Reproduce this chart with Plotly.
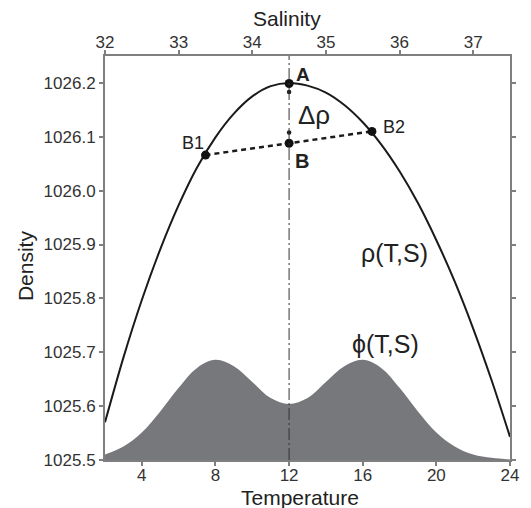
import plotly.graph_objects as go

# ---- data ----
temperature = [2, 3, 4, 5, 6, 7, 8, 9, 10, 11, 12, 13, 14, 15, 16, 17, 18, 19, 20, 21, 22, 23, 24]
density_rho = [1025.570, 1025.690, 1025.797, 1025.891, 1025.973, 1026.043, 1026.099, 1026.143,
               1026.175, 1026.194, 1026.200, 1026.195, 1026.182, 1026.159, 1026.127, 1026.086,
               1026.036, 1025.977, 1025.908, 1025.831, 1025.744, 1025.648, 1025.543]
phi_fill = [1025.510, 1025.525, 1025.551, 1025.590, 1025.634, 1025.671, 1025.686, 1025.674,
            1025.645, 1025.615, 1025.604, 1025.615, 1025.645, 1025.674, 1025.686, 1025.671,
            1025.634, 1025.590, 1025.551, 1025.525, 1025.510, 1025.504, 1025.501]
baseline = 1025.5

point_names = ["B1", "B", "B2"]
mix_T = [7.46, 12.0, 16.5]
mix_rho = [1026.066, 1026.088, 1026.110]
point_A = (12.0, 1026.199)
delta_marks_T = [12.0, 12.0]
delta_marks_rho = [1026.183, 1026.108]

salinity_ticks = [32, 33, 34, 35, 36, 37]
salinity_range = [32, 37.5]
mix_salinity = 34.5
temp_ticks = [4, 8, 12, 16, 20, 24]
temp_range = [2, 24]
density_ticks = [1025.5, 1025.6, 1025.7, 1025.8, 1025.9, 1026.0, 1026.1, 1026.2]
density_range = [1025.5, 1026.25]

FONT = "Liberation Sans, Arial, Helvetica, sans-serif"
TXT = "#222222"
AX = "#7f7f7f"

fig = go.Figure()

# phi(T,S) filled distribution
fig.add_trace(go.Scatter(x=temperature, y=[baseline] * len(temperature), mode="lines",
                         line=dict(width=0, color="#77787b"), showlegend=False, hoverinfo="skip"))
fig.add_trace(go.Scatter(x=temperature, y=phi_fill, mode="lines", fill="tonexty",
                         fillcolor="#77787b", line=dict(width=0, color="#77787b", shape="spline"),
                         showlegend=False))

# vertical dash-dot line at the mixing salinity (top axis)
fig.add_trace(go.Scatter(x=[mix_salinity, mix_salinity], y=density_range, xaxis="x2",
                         mode="lines", line=dict(color="#333333", width=1, dash="12px,3px,2px,3px"),
                         showlegend=False))

# rho(T,S) curve
fig.add_trace(go.Scatter(x=temperature, y=density_rho, mode="lines",
                         line=dict(color="#1a1a1a", width=2, shape="spline", smoothing=0.8),
                         showlegend=False))

# mixing line B1 - B - B2
fig.add_trace(go.Scatter(x=mix_T, y=mix_rho, mode="lines",
                         line=dict(color="#1a1a1a", width=2.5, dash="5px,4px"), showlegend=False))

# small markers for delta rho
fig.add_trace(go.Scatter(x=delta_marks_T, y=delta_marks_rho, mode="markers",
                         marker=dict(color="#1a1a1a", size=4.5), showlegend=False))

# points
fig.add_trace(go.Scatter(x=mix_T + [point_A[0]], y=mix_rho + [point_A[1]], mode="markers",
                         marker=dict(color="#111111", size=9), showlegend=False))

def ann(text, x, y, size, bold=False):
    fig.add_annotation(x=x, y=y, xref="x", yref="y", text=("<b>%s</b>" % text) if bold else text,
                       showarrow=False, font=dict(family=FONT, size=size, color=TXT),
                       xanchor="center", yanchor="middle")

ann("A", 12.74, 1026.215, 19, bold=True)
ann("B", 12.68, 1026.055, 20, bold=True)
ann("Δρ", 13.33, 1026.140, 26)
ann("B1", 6.80, 1026.089, 18)
ann("B2", 17.70, 1026.118, 18)
ann("ρ(T,S)", 17.73, 1025.885, 25)
ann("ϕ(T,S)", 17.25, 1025.715, 25)

# axis titles
title_font = dict(family=FONT, size=21, color=TXT)
fig.add_annotation(text="Temperature", xref="paper", yref="paper", x=0.4806, y=0,
                   xanchor="center", yanchor="middle", yshift=-37, showarrow=False, font=title_font)
fig.add_annotation(text="Salinity", xref="paper", yref="paper", x=0.449, y=1,
                   xanchor="center", yanchor="middle", yshift=37.7, showarrow=False, font=title_font)
fig.add_annotation(text="Density", xref="paper", yref="paper", x=0, y=0.48, textangle=-90,
                   xanchor="center", yanchor="middle", xshift=-80, showarrow=False, font=title_font)

axis_common = dict(showline=True, linecolor=AX, linewidth=2, ticks="outside", ticklen=4,
                   tickwidth=1.5, tickcolor=AX, showgrid=False, zeroline=False,
                   tickfont=dict(family=FONT, size=17, color="#333333"))

fig.update_layout(
    width=531, height=508,
    margin=dict(l=105, r=21, t=56, b=48, autoexpand=False),
    paper_bgcolor="white", plot_bgcolor="white",
    showlegend=False,
    xaxis=dict(range=temp_range, tickvals=temp_ticks, ticklabelstandoff=-5, **axis_common),
    xaxis2=dict(range=salinity_range, tickvals=salinity_ticks, overlaying="x", side="top",
                anchor="y", ticklabelstandoff=-5, **axis_common),
    yaxis=dict(range=density_range, tickvals=density_ticks, ticktext=["%.1f" % v for v in density_ticks],
               mirror="ticks", **axis_common),
)

fig.write_html("out.html", config={"displayModeBar": False},
               post_script="document.body.style.margin='0px';document.body.style.overflow='hidden';")
